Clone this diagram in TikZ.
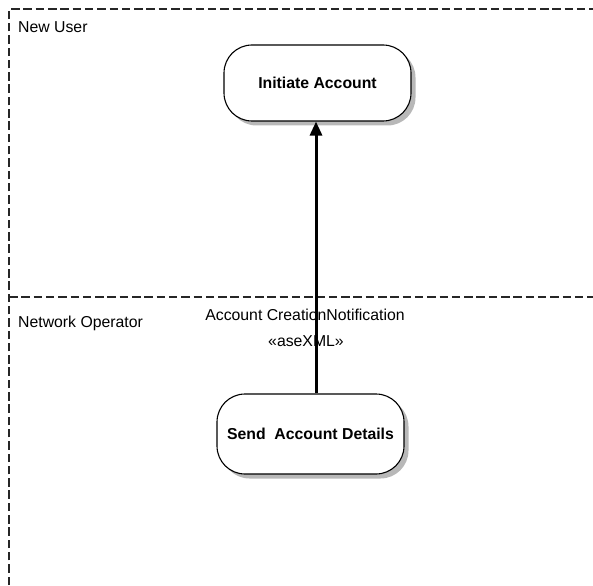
\documentclass[tikz,border=0pt]{standalone}
\usepackage{fontspec}
\setmainfont{Liberation Sans}
\usetikzlibrary{shadows,arrows.meta}
\begin{document}
\begin{tikzpicture}[x=1pt,y=-1pt,
  lane/.style={draw=black!85,line width=1.2pt,dash pattern=on 8.5pt off 3.8pt},
  activity/.style={draw,line width=1.1pt,fill=white,rounded corners=28pt,
    minimum width=187pt,inner sep=0pt,
    font=\fontsize{15.8}{18}\selectfont\bfseries,
    drop shadow={shadow xshift=4.5pt,shadow yshift=-4.5pt,fill=black!28,opacity=1}},
  lanelabel/.style={anchor=west,inner sep=0pt,font=\fontsize{15.8}{18}\selectfont},
  flowlabel/.style={inner sep=0pt,font=\fontsize{15.8}{18}\selectfont},
  flow/.style={line width=3pt,-{Triangle[width=12pt,length=14pt]}}]
\useasboundingbox (0,0) rectangle (593,585);
% swimlane borders
\draw[lane] (9,585) -- (9,9) -- (593,9);
\draw[lane] (9,297) -- (593,297);
\node[lanelabel] (lane1) at (18,27) {New User};
\node[lanelabel] (lane2) at (18,323) {Network Operator};
% activities
\node[activity,minimum height=76pt] (init) at (317.5,83) {Initiate Account};
\node[activity,minimum height=80pt] (send) at (310.5,434) {Send\ \ Account Details};
% message flow
\draw[flow] (send.north -| 316,0) -- (init.south -| 316,0);
\node[flowlabel] (msg) at (305,315) {Account CreationNotification};
\node[flowlabel] (stereo) at (306,341) {«aseXML»};
\end{tikzpicture}
\end{document}
